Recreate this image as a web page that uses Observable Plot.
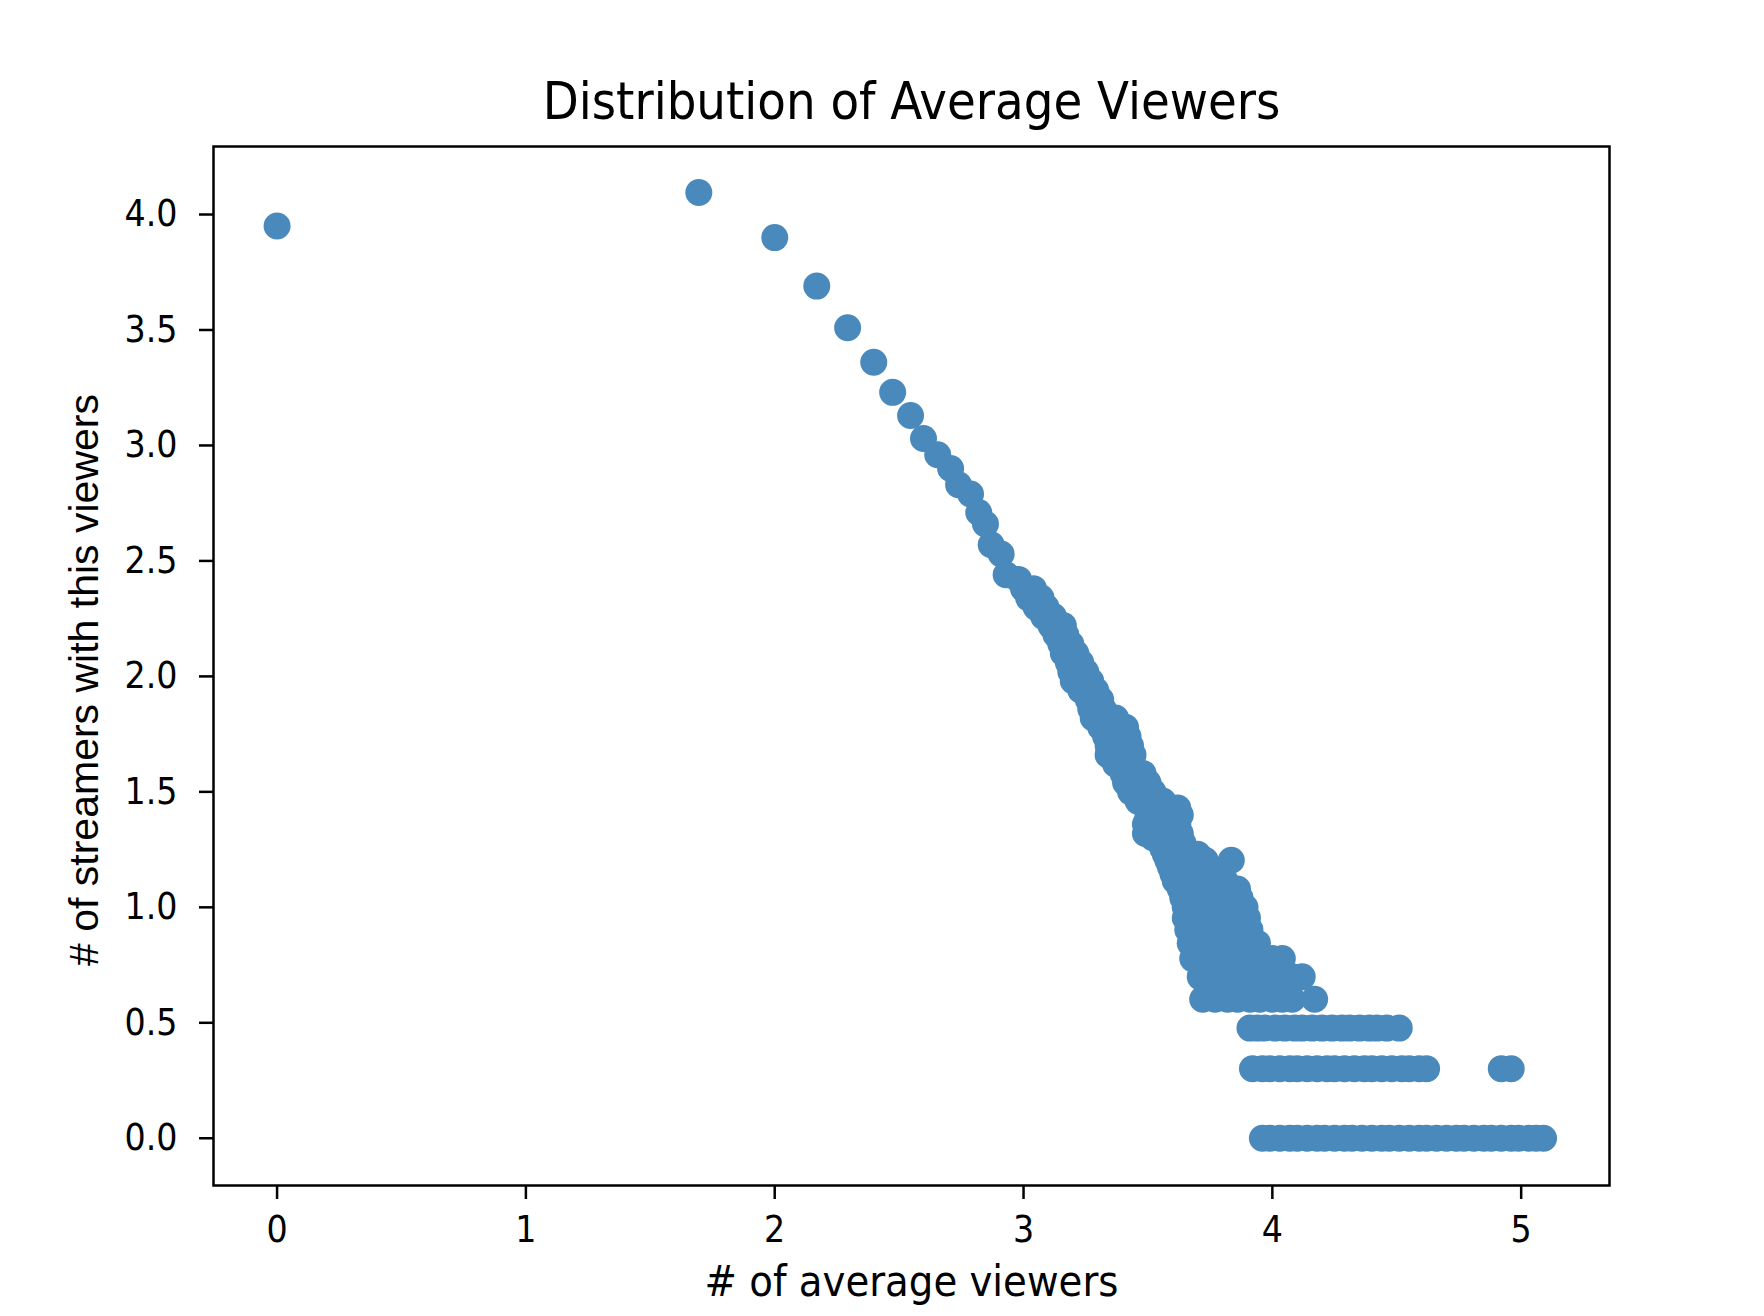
<!DOCTYPE html>
<html><head><meta charset="utf-8">
<script src="https://cdn.jsdelivr.net/npm/d3@7"></script>
<script src="https://cdn.jsdelivr.net/npm/@observablehq/plot@0.6"></script>
<style>body{margin:0;background:#fff}</style></head>
<body><div id="chart"></div>
<script>
const title = "Distribution of Average Viewers";
const xLabel = "# of average viewers";
const yLabel = "# of streamers with this viewers";
const xTicks = [0, 1, 2, 3, 4, 5];
const yTicks = [0, 0.5, 1, 1.5, 2, 2.5, 3, 3.5, 4];

// head of the curve (individual points)
const headX = [0, 1.695, 2.0, 2.169, 2.293, 2.398, 2.474, 2.546, 2.598, 2.655, 2.707, 2.739, 2.787, 2.82, 2.847, 2.87, 2.91, 2.93, 2.98];
const headY = [3.95, 4.095, 3.90, 3.69, 3.51, 3.36, 3.23, 3.13, 3.03, 2.96, 2.90, 2.83, 2.79, 2.71, 2.66, 2.57, 2.53, 2.44, 2.42];

// band: y level -> x values
const bandY = [2.38, 2.34, 2.30, 2.26, 2.22, 2.18, 2.14, 2.10, 2.06, 2.02, 1.98, 1.94, 1.90, 1.86, 1.82, 1.78, 1.74, 1.70, 1.66, 1.62, 1.58, 1.54, 1.50, 1.46, 1.43, 1.40, 1.36, 1.32, 1.301, 1.279, 1.255, 1.230, 1.204, 1.176, 1.146, 1.114, 1.079, 1.041, 1.0, 0.954, 0.903, 0.845, 0.778, 0.699, 0.602];
const bandX = [
  [3.00, 3.04], [3.02, 3.07], [3.05, 3.09], [3.08, 3.12], [3.11, 3.16], [3.13, 3.17],
  [3.15, 3.19], [3.16, 3.21], [3.18, 3.23], [3.19, 3.25], [3.20, 3.24, 3.27], [3.23, 3.29],
  [3.26, 3.31], [3.27, 3.32], [3.28, 3.33, 3.37], [3.31, 3.36, 3.41], [3.33, 3.38, 3.42],
  [3.34, 3.39, 3.43], [3.34, 3.39, 3.44], [3.37, 3.42], [3.40, 3.44, 3.48], [3.41, 3.46, 3.50],
  [3.43, 3.48, 3.52], [3.46, 3.51, 3.56], [3.50, 3.54, 3.58, 3.62], [3.50, 3.55, 3.60, 3.63],
  [3.49, 3.53, 3.58, 3.62], [3.49, 3.54, 3.59, 3.63], [3.52, 3.57, 3.62],
  [3.55, 3.60, 3.64], [3.56, 3.61, 3.65], [3.57, 3.62, 3.66, 3.70],
  [3.58, 3.63, 3.68, 3.73, 3.835], [3.59, 3.64, 3.69, 3.74],
  [3.60, 3.65, 3.70, 3.75, 3.79], [3.61, 3.66, 3.71, 3.76, 3.81],
  [3.63, 3.68, 3.72, 3.77, 3.82, 3.86], [3.64, 3.69, 3.73, 3.78, 3.83, 3.87],
  [3.65, 3.70, 3.74, 3.79, 3.84, 3.89], [3.65, 3.70, 3.75, 3.80, 3.85, 3.90],
  [3.66, 3.71, 3.76, 3.81, 3.86, 3.91], [3.67, 3.72, 3.76, 3.81, 3.86, 3.90, 3.94],
  [3.68, 3.72, 3.77, 3.82, 3.87, 3.91, 3.96, 4.00, 4.04],
  [3.71, 3.75, 3.80, 3.85, 3.89, 3.94, 3.98, 4.03, 4.08, 4.12],
  [3.72, 3.77, 3.82, 3.86, 3.91, 3.95, 4.00, 4.04, 4.08, 4.17]
];

// bottom rows (3, 2 and 1 streamers)
const row3Y = 0.477;
const row3X = [3.91, 3.94, 3.97, 4.01, 4.05, 4.09, 4.12, 4.16, 4.20, 4.24, 4.28, 4.31, 4.35, 4.39, 4.42, 4.46, 4.51];
const row2Y = 0.301;
const row2X = [3.92, 3.96, 3.99, 4.03, 4.07, 4.10, 4.14, 4.18, 4.22, 4.25, 4.29, 4.33, 4.37, 4.40, 4.44, 4.48, 4.52, 4.55, 4.59, 4.62, 4.92, 4.96];
const row1Y = 0;
const row1X = [3.96, 3.99, 4.03, 4.07, 4.10, 4.14, 4.18, 4.21, 4.25, 4.29, 4.32, 4.36, 4.40, 4.44, 4.47, 4.51, 4.55, 4.59, 4.62, 4.66, 4.70, 4.74, 4.77, 4.81, 4.85, 4.88, 4.92, 4.96, 4.99, 5.03, 5.06, 5.09];

const points = [];
headX.forEach((x, i) => points.push({x, y: headY[i]}));
bandY.forEach((y, i) => bandX[i].forEach(x => points.push({x, y})));
row3X.forEach(x => points.push({x, y: row3Y}));
row2X.forEach(x => points.push({x, y: row2Y}));
row1X.forEach(x => points.push({x, y: row1Y}));

const font = "'DejaVu Sans Condensed','DejaVu Sans',sans-serif";
const chart = Plot.plot({
  width: 1764, height: 1316,
  marginLeft: 213, marginRight: 155, marginTop: 146, marginBottom: 131,
  x: {domain: [-0.2555, 5.355]},
  y: {domain: [-0.2045, 4.2945]},
  style: {fontFamily: font, fontStretch: "condensed", background: "white", color: "black"},
  marks: [
    Plot.dot(points, {x: "x", y: "y", r: 13.5, fill: "#4a89bb", stroke: null}),
    Plot.frame({stroke: "black", strokeWidth: 2.5}),
    Plot.axisX({ticks: xTicks, tickSize: 14, tickPadding: 16, fontSize: 37, label: null, tickFormat: d => String(d), strokeWidth: 2.5}),
    Plot.axisY({ticks: yTicks, tickSize: 14, tickPadding: 22, fontSize: 37, label: null, tickFormat: d => d.toFixed(1), strokeWidth: 2.5}),
    Plot.text([title], {text: d => d, frameAnchor: "top", dy: -28, lineAnchor: "bottom", fontSize: 52}),
    Plot.text([xLabel], {text: d => d, frameAnchor: "bottom", dy: 110, lineAnchor: "bottom", fontSize: 43}),
    Plot.text([yLabel], {text: d => d, frameAnchor: "left", textAnchor: "middle", rotate: -90, dx: -116, dy: 14, lineAnchor: "bottom", fontSize: 41, fontFamily: "'Liberation Sans',Arial,sans-serif"})
  ]
});
document.getElementById("chart").append(chart);
</script></body></html>
